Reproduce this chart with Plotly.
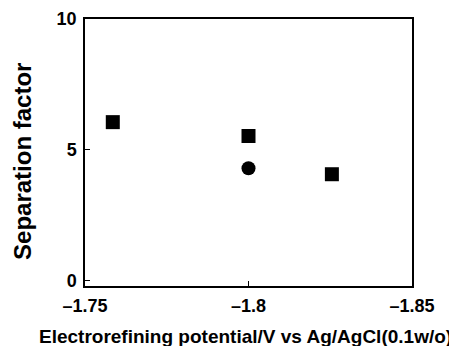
import plotly.graph_objects as go

square_x = [-1.7585, -1.80, -1.8255]
square_y = [6.06, 5.53, 4.07]
circle_x = [-1.80]
circle_y = [4.30]

x_ticks = [-1.75, -1.80, -1.85]
x_ticktext = ["<b>\u20131.75</b>", "<b>\u20131.8</b>", "<b>\u20131.85</b>"]
y_ticks = [0, 5, 10]
y_ticktext = ["<b>0</b>", "<b>5</b>", "<b>10</b>"]
x_title = "Electrorefining potential/V vs Ag/AgCl(0.1w/o)"
y_title = "Separation factor"

fig = go.Figure()
fig.add_trace(go.Scatter(x=square_x, y=square_y, mode="markers",
                         marker=dict(symbol="square", size=14, color="black"),
                         showlegend=False))
fig.add_trace(go.Scatter(x=circle_x, y=circle_y, mode="markers",
                         marker=dict(symbol="circle", size=14, color="black"),
                         showlegend=False))

font = "Liberation Sans, Arial, sans-serif"
# page body has an 8px default margin, so the figure is sized/offset accordingly
fig.update_layout(
    width=449, height=338,
    margin=dict(l=77, r=45, t=11, b=60, autoexpand=False),
    paper_bgcolor="white", plot_bgcolor="white",
    font=dict(family=font, color="black"),
    xaxis=dict(range=[-1.75, -1.85], tickvals=x_ticks, ticktext=x_ticktext,
               ticks="inside", ticklen=5, tickwidth=1, tickcolor="black",
               showline=True, linecolor="black", linewidth=1.5, mirror=True,
               showgrid=False, zeroline=False, ticklabelstandoff=3,
               tickfont=dict(size=18, family=font)),
    yaxis=dict(range=[-0.2, 10], tickvals=y_ticks, ticktext=y_ticktext,
               ticks="inside", ticklen=5, tickwidth=1, tickcolor="black",
               showline=True, linecolor="black", linewidth=1.5, mirror=True,
               showgrid=False, zeroline=False, ticklabelstandoff=3,
               tickfont=dict(size=18, family=font)),
    annotations=[
        dict(text="<b>" + x_title + "</b>", xref="paper", yref="paper",
             x=0.492, y=-0.191, xanchor="center", yanchor="middle",
             showarrow=False, font=dict(size=19, family=font)),
        dict(text="<b>" + y_title + "</b>", xref="paper", yref="paper",
             x=-0.193, y=0.468, xanchor="center", yanchor="middle",
             textangle=-90, showarrow=False, font=dict(size=24, family=font)),
    ],
)
fig.write_html("out.html")
